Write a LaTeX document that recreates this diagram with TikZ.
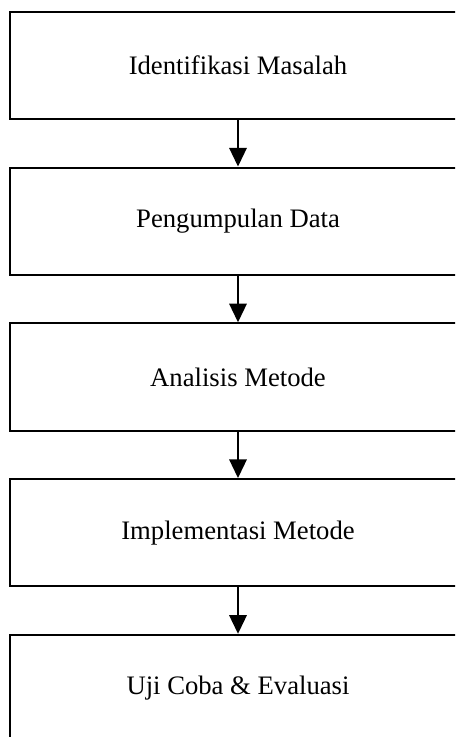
\documentclass[tikz,border=0pt]{standalone}
\usepackage{fontspec}
\setmainfont{Liberation Serif}
\usetikzlibrary{arrows.meta}
\begin{document}
\begin{tikzpicture}[x=0.75pt, y=0.75pt,
  stage/.style={draw, line width=1.5pt, minimum width=342pt, minimum height=80.5pt, font=\fontsize{20}{24}\selectfont},
  flow/.style={line width=1.6pt, -{Triangle[length=14pt, width=13pt]}}]
\useasboundingbox (0,0) rectangle (455,737);
\clip (0,0) rectangle (455,737);
\node[stage] (1) at (238, 671.5) {Identifikasi Masalah};
\node[stage] (2) at (238, 515.75) {Pengumpulan Data};
\node[stage] (3) at (238, 360) {Analisis Metode};
\node[stage] (4) at (238, 204.25) {Implementasi Metode};
\node[stage] (5) at (238, 48.5) {Uji Coba \& Evaluasi};
\draw[flow] (1) -- (2);
\draw[flow] (2) -- (3);
\draw[flow] (3) -- (4);
\draw[flow] (4) -- (5);
\end{tikzpicture}
\end{document}
